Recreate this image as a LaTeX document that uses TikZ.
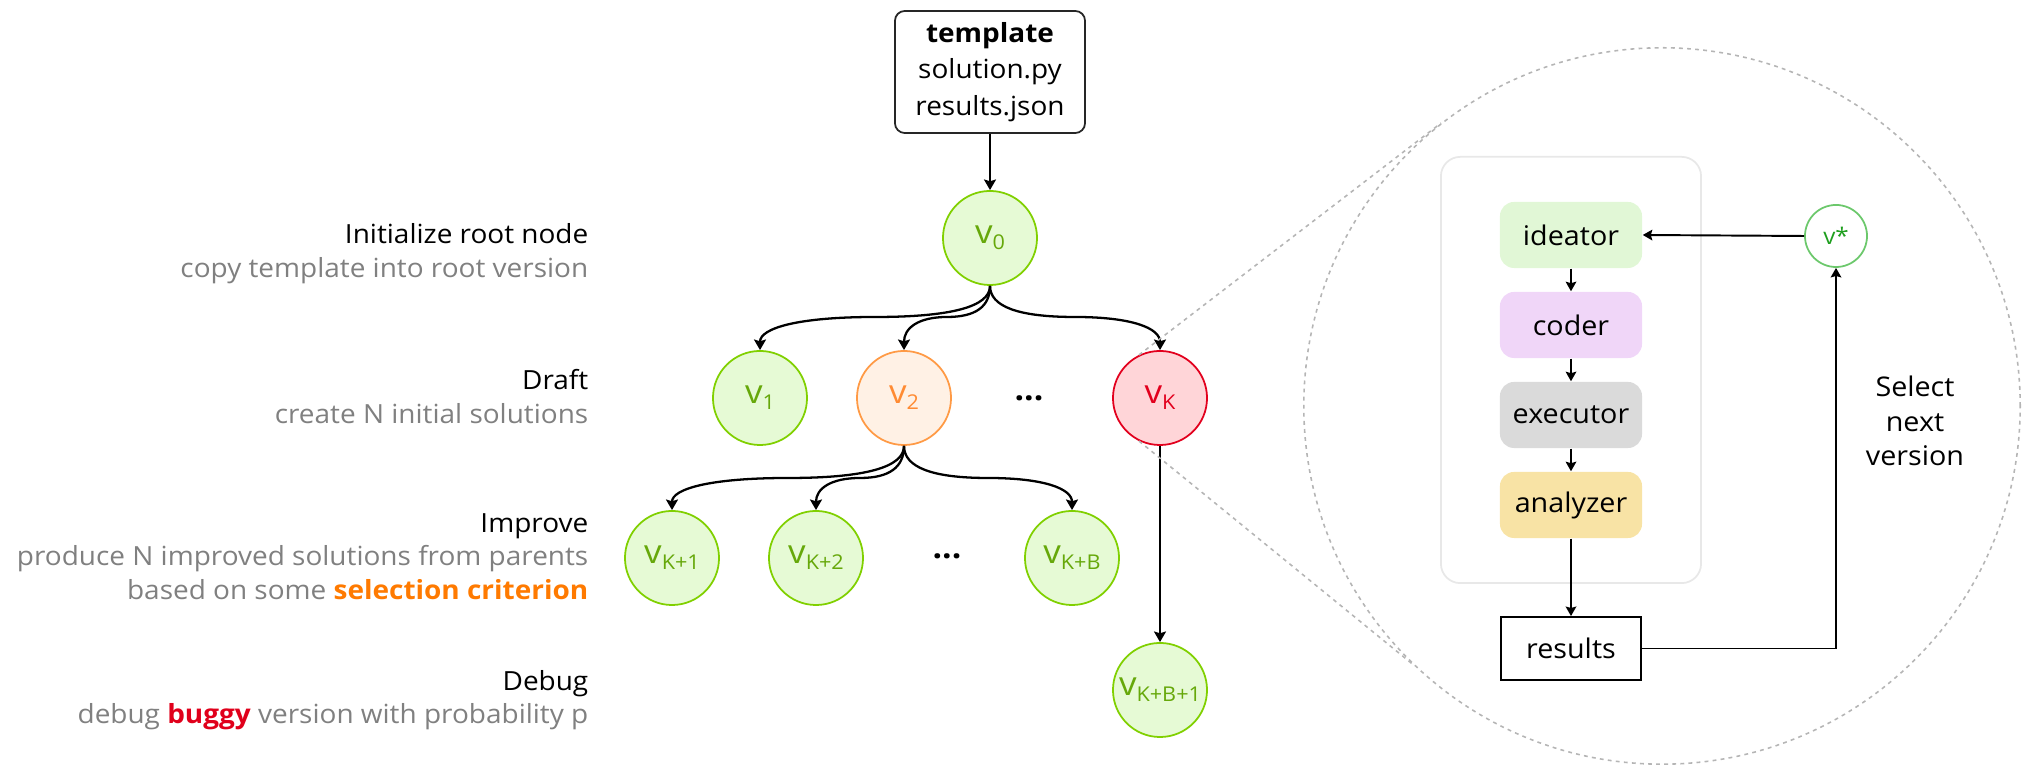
\documentclass[tikz,border=0pt]{standalone}
\usepackage{fontspec}
\setmainfont[FakeStretch=1.06]{Open Sans}
\usetikzlibrary{calc,arrows.meta}

\definecolor{gfill}{HTML}{E6FAD5}
\definecolor{gline}{HTML}{80D000}
\definecolor{gtext}{HTML}{66A80A}
\definecolor{ofill}{HTML}{FFF1E5}
\definecolor{oline}{HTML}{FF9A45}
\definecolor{otext}{HTML}{FF8B33}
\definecolor{rfill}{HTML}{FFD5D8}
\definecolor{rline}{HTML}{E2001D}
\definecolor{rtext}{HTML}{E2001D}
\definecolor{ideafill}{HTML}{E1F7D6}
\definecolor{coderfill}{HTML}{F0D6F8}
\definecolor{execfill}{HTML}{DADADA}
\definecolor{anafill}{HTML}{F8E3A5}
\definecolor{boxline}{HTML}{E8E8E8}
\definecolor{zoomgray}{HTML}{B5B5B5}
\definecolor{descgray}{HTML}{808080}
\definecolor{selorange}{HTML}{FF7A00}
\definecolor{buggyred}{HTML}{E0001B}
\definecolor{starline}{HTML}{6CC86C}
\definecolor{startext}{HTML}{1E9E1E}

% version label: v with a lowered small index
\newcommand\vsub[1]{v\raisebox{-1.7pt}{\fontsize{5.8}{6.5}\selectfont#1}}

% curved tree edge: parent, child, y of the horizontal run
\newcommand\treeedge[3]{%
  \path (#1.south) coordinate (s) (#2.north) coordinate (e) (0,#3) coordinate (lv);
  \path (s |- lv) coordinate (a) (e |- lv) coordinate (b);
  \path ($(a)!0.5!(b)$) coordinate (m);
  \draw[edge] (s) .. controls ($(s)!2/3!(a)$) and ($(m)!2/3!(a)$) .. (m)
              .. controls ($(m)!2/3!(b)$) and ($(e)!2/3!(b)$) .. (e);
}

\begin{document}
\begin{tikzpicture}[x=0.01cm,y=-0.01cm,
  font=\fontsize{7.5}{9.7}\selectfont,
  ver/.style={circle, inner sep=0pt, minimum size=0.94cm, line width=0.5pt,
    font=\fontsize{9.4}{10}\selectfont},
  gver/.style={ver, draw=gline, fill=gfill, text=gtext},
  over/.style={ver, draw=oline, fill=ofill, text=otext},
  rver/.style={ver, draw=rline, fill=rfill, text=rtext},
  edge/.style={line width=0.65pt, -{Stealth[length=3pt,width=3.4pt,inset=0.5pt]}},
  flow/.style={line width=0.55pt, -{Stealth[length=2.7pt,width=3pt,inset=0.4pt]}},
  agent/.style={rounded corners=4pt, minimum width=1.42cm, minimum height=0.66cm,
    inner sep=0pt, font=\fontsize{7.7}{9}\selectfont},
  steptitle/.style={anchor=base east, inner sep=0pt},
  stepdesc/.style={steptitle, text=descgray},
  dotsnode/.style={inner sep=0pt, font=\fontsize{9}{9}\selectfont\bfseries},
  zoomline/.style={draw=zoomgray, line width=0.45pt, dash pattern=on 1.1pt off 1.2pt}
]
\useasboundingbox (0,0) rectangle (2038,774);

% phase descriptions
\node[steptitle] (t1) at (589,244) {Initialize root node};
\node[stepdesc] (d1) at (589,277.6) {copy template into root version};
\node[steptitle] (t2) at (589,390) {Draft};
\node[stepdesc] (d2) at (589,424) {create N initial solutions};
\node[steptitle] (t3) at (589,533) {Improve};
\node[stepdesc] (d3) at (589,565.5) {produce N improved solutions from parents};
\node[stepdesc] (d3b) at (589,600) {based on some \textbf{\textcolor{selorange}{selection criterion}}};
\node[steptitle] (t4) at (589,691) {Debug};
\node[stepdesc] (d4) at (589,724) {debug \textbf{\textcolor{buggyred}{buggy}} version with probability p};

% magnifier outline
\node[circle, zoomline, minimum size=7.16cm, inner sep=0pt] (zoom) at (1662,406) {};

% template
\node[draw=black!85, rounded corners=2.8pt, line width=0.5pt, minimum width=1.9cm,
  minimum height=1.22cm, align=center, inner sep=0pt,
  font=\fontsize{7.5}{10.4}\selectfont] (tpl) at (990,72)
  {\textbf{template}\\solution.py\\results.json};

% search tree
\node[gver] (v0) at (990,238) {\vsub{0}};
\node[gver] (v1) at (760,398) {\vsub{1}};
\node[over] (v2) at (904,398) {\vsub{2}};
\node[dotsnode] (dots1) at (1029,398) {...};
\node[rver] (vK) at (1160,398) {\vsub{K}};
\node[gver] (vK1) at (672,558) {\vsub{K+1}};
\node[gver] (vK2) at (816,558) {\vsub{K+2}};
\node[dotsnode] (dots2) at (947,556) {...};
\node[gver] (vKB) at (1072,558) {\vsub{K+B}};
\node[gver] (vKB1) at (1160,690) {\vsub{K+B+1}};

\draw[edge] (tpl.south) -- (v0.north);
\treeedge{v0}{v1}{317}
\treeedge{v0}{v2}{317}
\treeedge{v0}{vK}{317}
\treeedge{v2}{vK1}{478}
\treeedge{v2}{vK2}{478}
\treeedge{v2}{vKB}{478}
\draw[edge] (vK.south) -- (vKB1.north);

% lines from the buggy node to the magnifier
\draw[zoomline] (vK.116) -- (zoom.128.3);
\draw[zoomline] (vK.244) -- (zoom.226.1);

% agent pipeline
\node[draw=boxline, line width=0.5pt, rounded corners=5.5pt, minimum width=2.6cm,
  minimum height=4.26cm, inner sep=0pt] (stage) at (1571,370) {};
\node[agent, fill=ideafill] (ide) at (1571,235) {ideator};
\node[agent, fill=coderfill] (cod) at (1571,325) {coder};
\node[agent, fill=execfill] (exe) at (1571,415) {executor};
\node[agent, fill=anafill] (ana) at (1571,505) {analyzer};
\node[draw, line width=0.5pt, minimum width=1.4cm, minimum height=0.63cm,
  inner sep=0pt, font=\fontsize{7.7}{9}\selectfont] (res) at (1571,648.5) {results};
\node[circle, draw=starline, line width=0.5pt, minimum size=0.62cm, inner sep=0pt,
  text=startext, font=\fontsize{6.5}{7}\selectfont] (vs) at (1836,236) {v*};
\node[align=center, inner sep=0pt, font=\fontsize{7.7}{9.8}\selectfont] (sel)
  at (1915,421) {Select\\next\\version};

\draw[flow] (ide.south) -- (cod.north);
\draw[flow] (cod.south) -- (exe.north);
\draw[flow] (exe.south) -- (ana.north);
\draw[flow] (ana.south) -- (res.north);
\draw[flow] (vs.west) -- (ide.east);
\draw[flow] (res.east) -| (vs.south);
\end{tikzpicture}
\end{document}
